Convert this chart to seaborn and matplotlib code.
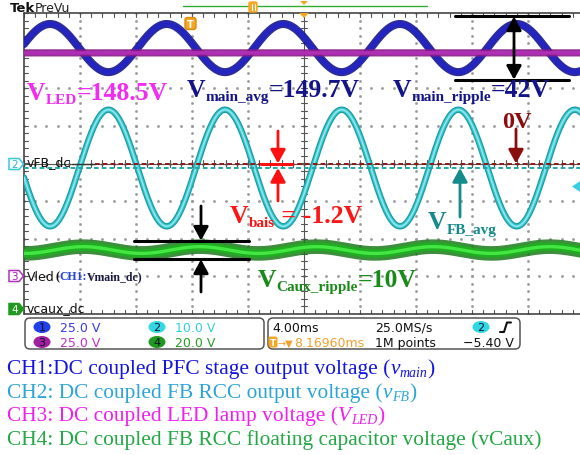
import numpy as np
import pandas as pd
import matplotlib
matplotlib.use("Agg")
import matplotlib.pyplot as plt
from matplotlib.patches import FancyBboxPatch, Polygon, Ellipse, FancyArrowPatch
import seaborn as sns

sns.set_style("white")
plt.rcParams["font.family"] = ["DejaVu Sans"]

# ---- scope channel settings ----
channels = ["CH1", "CH2", "CH3", "CH4"]
volts_per_div = [25.0, 10.0, 25.0, 20.0]
ground_div = [-2.92, 0.0, -3.0, -3.9]
time_per_div_ms = 4.0

# ---- measured waveform values ----
mean_v = [149.7, -1.2, 148.5, 32.0]
ripple_pkpk_v = [32.0, 31.0, 0.0, 3.6]
ripple_peak_ms = [1.86, 6.03, 0.0, 4.24]
ripple_period_ms = 8.33

# ---- annotated measurements ----
v_led = 148.5
v_main_avg = 149.7
v_main_ripple = 42.0
v_bias = -1.2
v_caux_ripple = 10.0
trigger_level_v = -5.40
trigger_delay_ms = 8.16960
scale_labels = ["25.0 V", "10.0 V", "25.0 V", "20.0 V"]

W, H = 580, 456
fig = plt.figure(figsize=(W / 100, H / 100), dpi=100)
fig.patch.set_facecolor("white")

# graticule: 10 x 8 divisions, 56 px by 37.625 px each
GX0, GY0, GDX, GDY = 24.0, 14.0, 56.0, 37.625
ax = fig.add_axes([GX0 / W, 1 - (GY0 + 8 * GDY) / H, 10 * GDX / W, 8 * GDY / H])
ax.set_xlim(0, 10)
ax.set_ylim(-4, 4)
ax.axis("off")

ov = fig.add_axes([0, 0, 1, 1], zorder=5)
ov.set_xlim(0, W)
ov.set_ylim(H, 0)
ov.axis("off")
ov.patch.set_alpha(0)


def xd(px):
    return (px - GX0) / GDX


def yd(py):
    return 4 - (py - GY0) / GDY


def ch_div(i, volts):
    return ground_div[i] + volts / volts_per_div[i]


# ---- graticule ----
grid_col = "#9a9a9a"
steps_x = np.arange(0, 10.001, 0.2)
steps_y = np.arange(-4, 4.001, 0.2)
for gx in range(1, 10):
    if gx == 5:
        continue
    ax.plot(np.full_like(steps_y, gx), steps_y, ls="none", marker="s", ms=0.9, color=grid_col, zorder=1)
for gy in range(-3, 4):
    ax.plot(steps_x, np.full_like(steps_x, gy), ls="none", marker="s", ms=0.9, color=grid_col, zorder=1)
ax.plot([5, 5], [-4, 4], color="#555555", lw=0.8, zorder=1)
ax.plot([0, 10], [0, 0], color="#555555", lw=0.8, zorder=1)
for sx in steps_x:
    ax.plot([sx, sx], [-0.08, 0.08], color="#555555", lw=0.8, zorder=1)
    ax.plot([sx, sx], [4, 3.9], color="#555555", lw=0.8, zorder=1)
    ax.plot([sx, sx], [-4, -3.9], color="#555555", lw=0.8, zorder=1)
for sy in steps_y:
    ax.plot([4.94, 5.06], [sy, sy], color="#555555", lw=0.8, zorder=1)
    ax.plot([0, 0.07], [sy, sy], color="#555555", lw=0.8, zorder=1)
ax.plot([0, 10], [4, 4], color="#444444", lw=1.2, zorder=1, clip_on=False)
ax.plot([0, 10], [-4, -4], color="#444444", lw=1.2, zorder=1, clip_on=False)
ax.plot([0, 0], [-4, 4], color="#444444", lw=1.2, zorder=1, clip_on=False)

# ---- waveforms ----
t = np.linspace(0, 10 * time_per_div_ms, 2400)
frames = []
for i, ch in enumerate(channels):
    volts = mean_v[i] + ripple_pkpk_v[i] / 2 * np.cos(2 * np.pi * (t - ripple_peak_ms[i]) / ripple_period_ms)
    frames.append(pd.DataFrame({"t_div": t / time_per_div_ms, "y_div": ch_div(i, volts), "channel": ch}))
traces = pd.concat(frames, ignore_index=True)

layers = {
    "CH1": [("#15158f", 5.8, 0.9), ("#2424c2", 3.2, 1.0)],
    "CH3": [("#8a1a8a", 5.2, 0.9), ("#b02eb4", 2.6, 1.0)],
    "CH2": [("#1b9ca6", 4.6, 1.0), ("#3cc6cc", 2.8, 1.0), ("#8ae8ec", 1.2, 1.0)],
    "CH4": [("#1b7a1b", 10.5, 0.85), ("#1fae1f", 6.0, 1.0), ("#44e644", 2.4, 1.0)],
}
for ch in ["CH1", "CH3", "CH2", "CH4"]:
    sub = traces[traces["channel"] == ch]
    for color, lw, alpha in layers[ch]:
        sns.lineplot(data=sub, x="t_div", y="y_div", color=color, linewidth=lw, alpha=alpha,
                     estimator=None, sort=False, legend=False, ax=ax, zorder=3)
ax.set_xlim(0, 10)
ax.set_ylim(-4, 4)
ax.axis("off")

# ---- reference levels for CH2 ----
zero_fb = ch_div(1, 0.0)
avg_fb = ch_div(1, v_bias)
ln, = ax.plot([xd(95), 10], [zero_fb, zero_fb], color="#8b1a1a", lw=1.4, zorder=4)
ln.set_dashes((2.4, 1.6))
ln, = ax.plot([0, 10], [avg_fb, avg_fb], color="#23a6a8", lw=1.4, zorder=4)
ln.set_dashes((2.4, 1.6))
ax.plot([xd(72), xd(95)], [zero_fb, zero_fb], color="#333333", lw=1.0, zorder=4)


def arrow(x0, y0, x1, y1, color, style="-|>", lw=2.0, ms=15):
    ax.add_patch(FancyArrowPatch((x0, y0), (x1, y1),
                                 arrowstyle=f"{style},head_length=0.55,head_width=0.3",
                                 mutation_scale=ms, color=color, lw=lw,
                                 shrinkA=0, shrinkB=0, zorder=6, clip_on=False))


# CH1 ripple bracket
top1 = ch_div(0, v_main_avg + v_main_ripple / 2)
bot1 = ch_div(0, v_main_avg - v_main_ripple / 2)
ax.plot([xd(455), xd(569)], [top1, top1], color="black", lw=2.2, zorder=6)
ax.plot([xd(455), xd(569)], [bot1, bot1], color="black", lw=2.2, zorder=6)
arrow(xd(514), (top1 + bot1) / 2, xd(514), top1, "black", lw=2.0)
arrow(xd(514), (top1 + bot1) / 2, xd(514), bot1, "black", lw=2.0)

# CH4 ripple bracket
top4 = ch_div(3, mean_v[3] + v_caux_ripple / 2)
bot4 = ch_div(3, mean_v[3] - v_caux_ripple / 2)
ax.plot([xd(134), xd(249)], [top4, top4], color="black", lw=2.2, zorder=6)
ax.plot([xd(134), xd(249)], [bot4, bot4], color="black", lw=2.2, zorder=6)
arrow(xd(201), yd(207), xd(201), top4, "black")
arrow(xd(201), yd(293), xd(201), bot4, "black")

# CH2 bias markers
ax.plot([xd(261), xd(292)], [zero_fb, zero_fb], color="#ff1010", lw=2.2, zorder=6)
arrow(xd(278), yd(132), xd(278), zero_fb, "#ff1010")
arrow(xd(278), yd(202), xd(278), avg_fb, "#ff1010")
arrow(xd(516), yd(130), xd(516), zero_fb, "#8b0d0d")
arrow(xd(460), yd(218), xd(460), avg_fb, "#148c8c")

# ---- rich text helper (pixel coordinates, baseline anchored) ----
renderer = fig.canvas.get_renderer()


def rich(x, y, parts, color, family="Liberation Serif", weight="bold"):
    for part in parts:
        s, size, dy = part[0], part[1], part[2]
        style = part[3] if len(part) > 3 else "normal"
        c = part[4] if len(part) > 4 else color
        txt = ov.text(x, y + dy, s, fontsize=size, color=c, family=family, weight=weight,
                      style=style, va="baseline", ha="left", zorder=8)
        x += txt.get_window_extent(renderer=renderer).width
    return x


BIG, SUB = 18.5, 11
rich(27, 100, [("V", BIG, 0), ("LED", SUB, 4), (f"={v_led:.1f}V", BIG, 0)], "#f22cf2")
rich(187, 97, [("V", BIG, 0), ("main_avg", SUB, 4), (f"={v_main_avg:.1f}V", BIG, 0)], "#14148a")
rich(393, 97, [("V", BIG, 0), ("main_ripple", SUB, 4), (f"={v_main_ripple:.0f}V", BIG, 0)], "#14148a")
rich(502, 128, [("0V", 17.5, 0)], "#8b0d0d")
rich(230, 223, [("V", BIG, 0), ("bais", SUB, 4), (f" = {v_bias:.1f}V", BIG, 0)], "#ff1414")
rich(428, 229, [("V", BIG, 0), ("FB_avg", SUB, 5)], "#148a8a")
rich(258, 287, [("V", BIG, 0), ("Caux_ripple", SUB, 4), (f"={v_caux_ripple:.0f}V", BIG, 0)], "#1a8a1a")

# ---- captions ----
CAP, CSUB = 15.4, 10
rich(7, 374, [("CH1:DC coupled PFC stage output voltage (", CAP, 0), ("v", CAP, 0, "italic"),
              ("main", CSUB, 3, "italic"), (")", CAP, 0)], "#1414e0", weight="normal")
rich(7, 398, [("CH2: DC coupled FB RCC output voltage (", CAP, 0), ("v", CAP, 0, "italic"),
              ("FB", CSUB, 3, "italic"), (")", CAP, 0)], "#2ba4d6", weight="normal")
rich(7, 421, [("CH3: DC coupled LED lamp voltage (", CAP, 0), ("V", CAP, 0, "italic"),
              ("LED", CSUB, 3, "italic"), (")", CAP, 0)], "#f01ef0", weight="normal")
rich(7, 445, [("CH4: DC coupled FB RCC floating capacitor voltage (vCaux)", CAP, 0)],
     "#22a844", weight="normal")

# ---- scope header ----
ov.text(10, 8, "Tek", fontsize=9.5, weight="bold", va="center", ha="left", color="#111111")
ov.text(35, 8, "PreVu", fontsize=9, va="center", ha="left", color="#222222")
ov.plot([183, 427], [7, 7], color="#33aa33", lw=1.0)
ov.add_patch(FancyBboxPatch((249, 3), 8, 10, boxstyle="round,pad=0,rounding_size=1.5",
                            fc="#f5a623", ec="#f5a623", zorder=6))
ov.plot([252, 252], [5, 11], color="white", lw=0.8, zorder=7)
ov.plot([254.5, 254.5], [5, 11], color="white", lw=0.8, zorder=7)
ov.add_patch(Polygon([(300, 2), (308, 2), (304, 6)], closed=True, fc="#f5a623", ec="none"))
ov.add_patch(Polygon([(299, 14), (309, 14), (304, 19)], closed=True, fc="#f5a623", ec="none", zorder=6))
ov.add_patch(FancyBboxPatch((185, 18.5), 11, 12, boxstyle="round,pad=0,rounding_size=2.5",
                            fc="#f5a623", ec="#e08a10", zorder=7))
ov.text(190.5, 24.8, "T", fontsize=7, weight="bold", color="white", ha="center", va="center", zorder=8)


# ---- channel ground markers ----
def marker(y, label, edge, face, txtc):
    ov.add_patch(Polygon([(9, y - 5.5), (19, y - 5.5), (23.5, y), (19, y + 5.5), (9, y + 5.5)],
                         closed=True, fc=face, ec=edge, lw=1.1, zorder=7))
    ov.text(14.5, y + 0.5, label, fontsize=7.5, color=txtc, ha="center", va="center", zorder=8)


marker(165, "2", "#38c8d8", "white", "#28b8c8")
marker(277, "3", "#b030c0", "white", "#a020b0")
marker(310, "4", "#1f9a1f", "#1f9a1f", "white")
ov.text(27, 163, "vFB_dc", fontsize=9, va="center", ha="left", color="#111111", zorder=8)
xv = rich(27, 281, [("Vled", 9, 0)], "#111111", family="DejaVu Sans", weight="normal")
rich(xv + 1, 280.5, [("(", 9, 0, "normal", "#111111"), ("CH1:", 8.5, 0, "normal", "#2244dd"),
                     ("Vmain_dc)", 8.5, 0, "normal", "#1a1a40")], "#111111")
ov.text(27, 309, "vcaux_dc", fontsize=9, va="center", ha="left", color="#111111", zorder=8)
ov.add_patch(Polygon([(572, 187.5), (581, 181.5), (581, 193.5)], closed=True,
                     fc="#38d0e0", ec="none", zorder=7))

# ---- readout boxes ----
for x0, x1 in [(25, 264), (268, 520)]:
    ov.add_patch(FancyBboxPatch((x0, 319), x1 - x0, 31, boxstyle="round,pad=0,rounding_size=5",
                                fc="white", ec="#555555", lw=1.1, zorder=6))

chip_cols = ["#2040e8", "#30d8e4", "#a0209e", "#1f9a1f"]
text_cols = ["#3a3ae6", "#30cfe0", "#c030c0", "#22a022"]
chip_pos = [(42, 328), (157, 328), (42, 343), (157, 343)]
for i in range(4):
    cx, cy = chip_pos[i]
    ov.add_patch(Ellipse((cx, cy), 17, 12, fc=chip_cols[i], ec="none", zorder=7))
    ov.text(cx, cy + 0.5, str(i + 1), fontsize=8, color="#101030", ha="center", va="center", zorder=8)
    ov.text(cx + 18, cy + 0.5, scale_labels[i], fontsize=9, color=text_cols[i], ha="left", va="center", zorder=8)

ov.text(272, 328.5, f"{time_per_div_ms:.2f}ms", fontsize=9, color="#111111", va="center", zorder=8)
ov.text(375, 328.5, "25.0MS/s", fontsize=9, color="#111111", va="center", zorder=8)
ov.add_patch(Ellipse((481, 328), 17, 12, fc="#30d8e4", ec="none", zorder=7))
ov.text(481, 328.5, "2", fontsize=8, color="#101030", ha="center", va="center", zorder=8)
ov.plot([500, 504, 507, 511], [333, 333, 323.5, 323.5], color="#111111", lw=1.5, zorder=8)

ov.add_patch(FancyBboxPatch((268.5, 337.5), 9, 11, boxstyle="round,pad=0,rounding_size=2",
                            fc="#f5a623", ec="none", zorder=7))
ov.text(273, 343.5, "T", fontsize=6.5, weight="bold", color="white", ha="center", va="center", zorder=8)
ov.text(278, 343.5, "\u2192\u25BC", fontsize=7, color="#f0a030", va="center", zorder=8)
ov.text(294, 343.5, f"{trigger_delay_ms:.5f}ms", fontsize=9, color="#f0a030", va="center", zorder=8)
ov.text(375, 343.5, "1M points", fontsize=9, color="#111111", va="center", zorder=8)
ov.text(463, 343.5, f"\u2212{abs(trigger_level_v):.2f} V", fontsize=9, color="#111111", va="center", zorder=8)

fig.savefig("out.png", dpi=100)
